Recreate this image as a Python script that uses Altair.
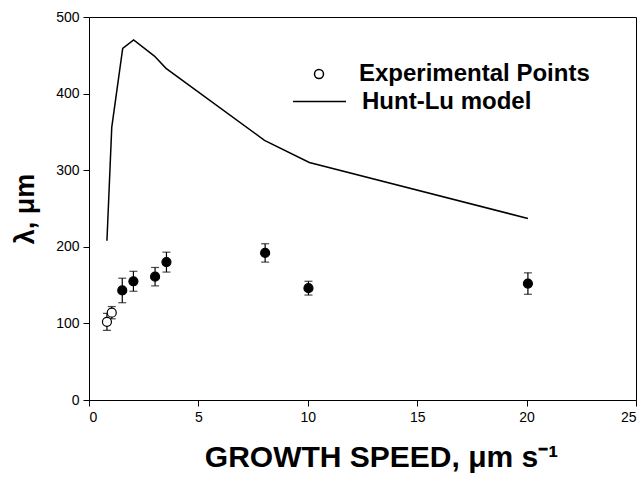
import altair as alt
import pandas as pd

# Experimental points
exp_x = [0.82, 1.04, 1.52, 2.03, 3.02, 3.54, 8.05, 10.03, 20.06]
exp_y = [102, 114, 143, 155, 161, 180, 192, 146, 152]
exp_err = [11, 8, 16, 13, 12, 13, 12, 9, 14]
exp_kind = ["open", "open", "filled", "filled", "filled", "filled", "filled", "filled", "filled"]

# Hunt-Lu model curve
model_x = [0.82, 1.04, 1.54, 2.04, 2.99, 3.52, 8.02, 10.07, 20.06]
model_y = [208, 356, 459, 470, 449, 433, 339, 310, 237]

series_names = ["Experimental Points", "Hunt-Lu model"]

pts = pd.DataFrame({
    "x": exp_x,
    "y": exp_y,
    "lo": [v - e for v, e in zip(exp_y, exp_err)],
    "hi": [v + e for v, e in zip(exp_y, exp_err)],
    "kind": exp_kind,
    "series": [series_names[0]] * len(exp_x),
})
model = pd.DataFrame({"x": model_x, "y": model_y, "series": [series_names[1]] * len(model_x)})

xs = alt.Scale(domain=[0, 25], nice=False)
ys = alt.Scale(domain=[0, 500], nice=False)
xax = alt.Axis(values=[0, 5, 10, 15, 20, 25], title="GROWTH SPEED, μm s⁻¹")
yax = alt.Axis(values=[0, 100, 200, 300, 400, 500], title="λ, μm")

base = alt.Chart(pts)

err = base.mark_rule(color="black", strokeWidth=1.2).encode(
    x=alt.X("x:Q", scale=xs, axis=xax),
    y=alt.Y("lo:Q", scale=ys, axis=yax),
    y2="hi:Q",
)
cap_lo = base.mark_tick(orient="horizontal", color="black", size=8, thickness=1.2).encode(
    x=alt.X("x:Q", scale=xs), y=alt.Y("lo:Q", scale=ys)
)
cap_hi = base.mark_tick(orient="horizontal", color="black", size=8, thickness=1.2).encode(
    x=alt.X("x:Q", scale=xs), y=alt.Y("hi:Q", scale=ys)
)

line = alt.Chart(model).mark_line(strokeWidth=1.5).encode(
    x=alt.X("x:Q", scale=xs),
    y=alt.Y("y:Q", scale=ys),
    stroke=alt.Stroke("series:N", scale=alt.Scale(domain=[series_names[1]], range=["black"]),
                      legend=alt.Legend(title=None, orient="none", legendX=203, legendY=57,
                                        symbolType="stroke", symbolSize=2809,
                                        symbolStrokeWidth=1.5, labelOffset=15)),
)

points = base.mark_point(filled=True, stroke="black", strokeWidth=1.2, opacity=1, size=81).encode(
    x=alt.X("x:Q", scale=xs),
    y=alt.Y("y:Q", scale=ys),
    fill=alt.Fill("kind:N", scale=alt.Scale(domain=["open", "filled"], range=["white", "black"]), legend=None),
    shape=alt.Shape("series:N", scale=alt.Scale(domain=[series_names[0]], range=["circle"]),
                    legend=alt.Legend(title=None, orient="none", legendX=218, legendY=45,
                                      symbolSize=81, symbolFillColor="white",
                                      symbolStrokeColor="black", symbolStrokeWidth=1.5,
                                      labelOffset=28)),
)

chart = alt.layer(err, cap_lo, cap_hi, line, points).properties(
    width=547, height=383,
    autosize=alt.AutoSizeParams(type="none"),
    padding={"left": 89, "top": 17, "right": 8, "bottom": 84},
).resolve_legend(
    shape="independent", stroke="independent"
).configure_view(
    stroke="black", strokeWidth=1
).configure_axis(
    domainColor="black", tickColor="black", labelColor="black", titleColor="black",
    grid=False, tickSize=6, labelFont="Liberation Sans", labelFontSize=14,
    titleFont="Liberation Sans", titleFontWeight="bold",
    labelPadding=4,
).configure_axisX(
    titleFontSize=30, titlePadding=18, titleX=292,
).configure_axisY(
    titleFontSize=27, titlePadding=16,
).configure_legend(
    padding=0,
    labelFont="Liberation Sans", labelFontWeight="bold", labelFontSize=24,
    labelColor="black", labelLimit=0,
)

chart.save("out.html", embed_options={"renderer": "svg", "actions": False})
